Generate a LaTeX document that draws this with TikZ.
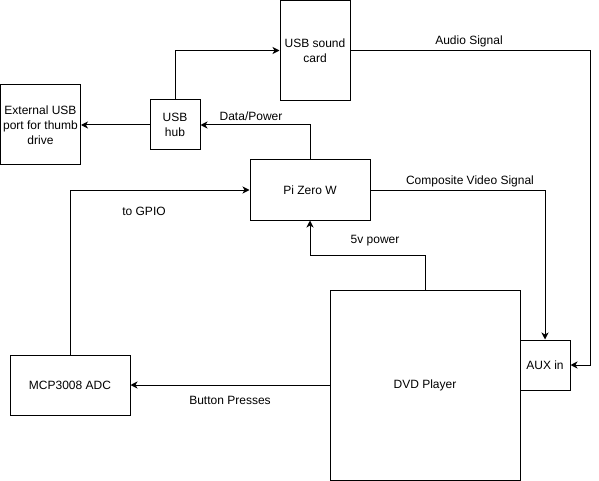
\documentclass[tikz,border=0pt]{standalone}
\usepackage{fontspec}
\setmainfont{Liberation Sans}
\usetikzlibrary{arrows.meta}
\tikzset{
  blk/.style={draw,line width=1pt,align=center,inner sep=0pt,font=\fontsize{12}{15}\selectfont},
  lbl/.style={inner sep=0pt,font=\fontsize{12}{15}\selectfont},
  wire/.style={line width=1pt,-{Stealth[length=7pt,width=7pt,inset=2pt]}}
}
\begin{document}
\begin{tikzpicture}[x=1pt,y=-1pt]
\useasboundingbox(0,0)rectangle(599,481);
\node[blk,minimum width=80,minimum height=80](ext)at(40.5,125){External USB\\port for thumb\\drive};
\node[blk,minimum width=50,minimum height=50](hub)at(175,125){USB\\hub};
\node[blk,minimum width=70,minimum height=100](snd)at(315,50.5){USB sound\\card};
\node[blk,minimum width=120,minimum height=60](pi)at(310,190){Pi Zero W};
\node[blk,minimum width=120,minimum height=60](mcp)at(70,385){MCP3008 ADC};
\node[blk,minimum width=190,minimum height=190](dvd)at(425,385){DVD Player};
\node[blk,minimum width=50,minimum height=50](aux)at(545,365){AUX in};
\coordinate(aud)at(590,50.5);
\coordinate(pw)at(425,255);
\draw[wire](hub.north)|-(snd.west);
\draw[wire](hub.west)--(ext.east);
\draw[wire](pi.north)|-(hub.east);
\draw[wire](pi.east)-|(aux.north);
\draw[wire](snd.east)--(aud)|-(aux.east);
\draw[wire](dvd.north)--(pw)-|(pi.south);
\draw[wire](mcp.north)|-(pi.west);
\draw[wire](dvd.west)--(mcp.east);
\node[lbl](ldp)at(251,116){Data/Power};
\node[lbl](las)at(469,41){Audio Signal};
\node[lbl](lcv)at(470,181){Composite Video Signal};
\node[lbl](lgp)at(144,211){to GPIO};
\node[lbl](l5v)at(375,241){5v power};
\node[lbl](lbp)at(230,400){Button Presses};
\end{tikzpicture}
\end{document}
